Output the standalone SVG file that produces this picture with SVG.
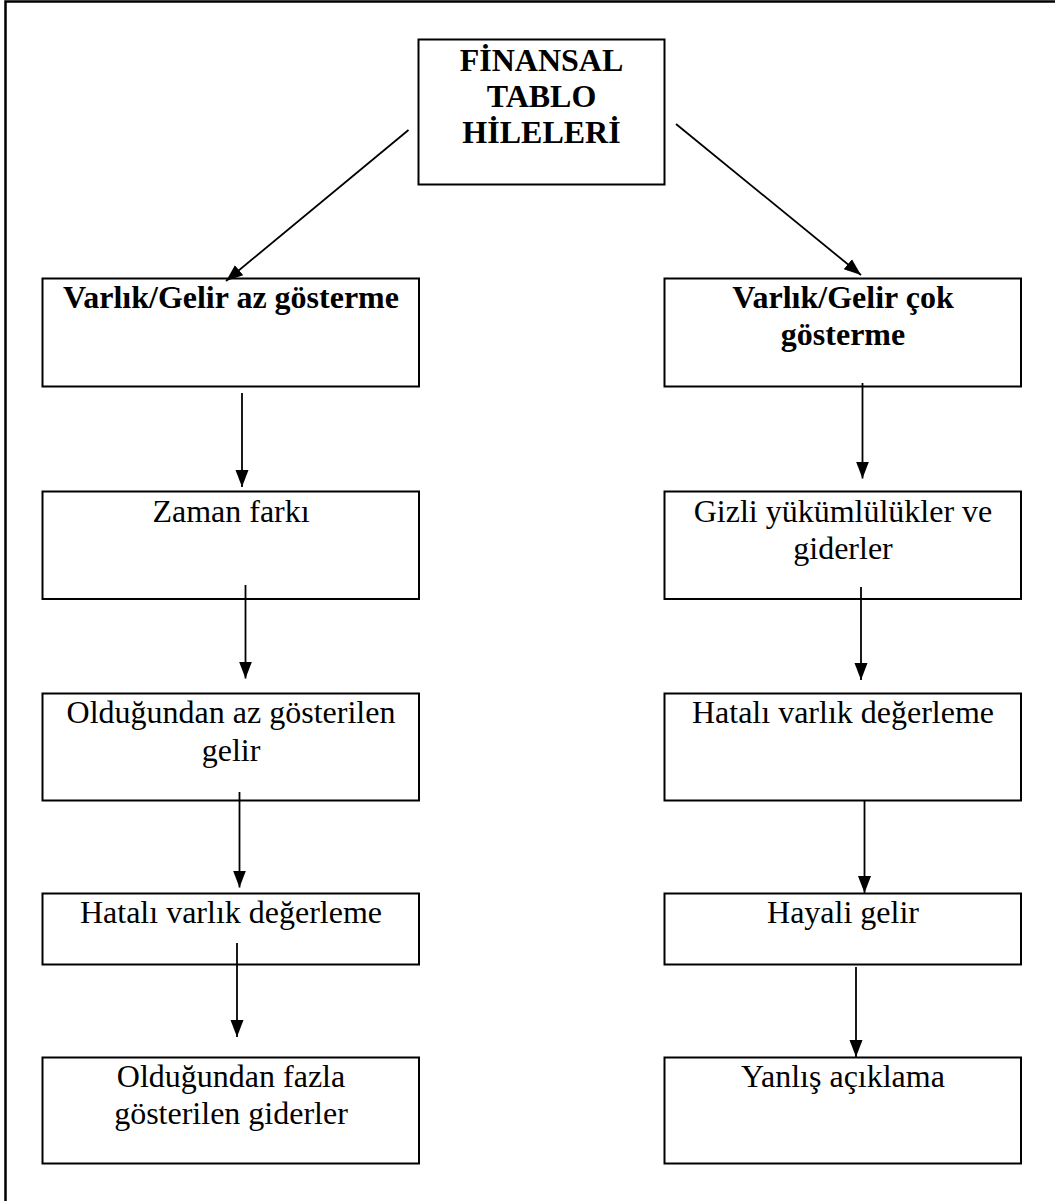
<svg xmlns="http://www.w3.org/2000/svg" width="1055" height="1201" viewBox="0 0 1055 1201">
<style>
.box{fill:#fff;stroke:#000;stroke-width:2}
.t{font-family:"Liberation Serif","Times New Roman",serif;font-size:32px;fill:#000;text-anchor:middle}
.b{font-weight:bold}
.c{stroke:#000;stroke-width:1.8;fill:none;marker-end:url(#ah)}
</style>
<defs>
<marker id="ah" markerUnits="userSpaceOnUse" markerWidth="18" markerHeight="16" viewBox="0 0 18 16" refX="17" refY="8" orient="auto">
<path d="M0,1.5 L17,8 L0,14.5 Z" fill="#000"/>
</marker>
</defs>
<rect width="1055" height="1201" fill="#fff"/>
<path d="M5.5,1201 V1.5 H1055" fill="none" stroke="#000" stroke-width="2.5"/>
<g id="n0"><rect class="box" x="418.5" y="39.5" width="246" height="145"/>
<text class="t b" x="541.5" y="70.5">FİNANSAL</text><text class="t b" x="541.5" y="107">TABLO</text><text class="t b" x="541.5" y="143">HİLELERİ</text></g>
<g id="l1"><rect class="box" x="42.5" y="278.5" width="376.5" height="108"/><text class="t b" x="231" y="308">Varlık/Gelir az gösterme</text></g>
<g id="r1"><rect class="box" x="664.5" y="278.5" width="356.5" height="108"/><text class="t b" x="843" y="308">Varlık/Gelir çok</text><text class="t b" x="843" y="345">gösterme</text></g>
<g id="l2"><rect class="box" x="42.5" y="491.5" width="376.5" height="107.5"/><text class="t" x="231" y="522">Zaman farkı</text></g>
<g id="r2"><rect class="box" x="664.5" y="491.5" width="356.5" height="107.5"/><text class="t" x="843" y="522">Gizli yükümlülükler ve</text><text class="t" x="843" y="558.5">giderler</text></g>
<g id="l3"><rect class="box" x="42.5" y="693.5" width="376.5" height="107"/><text class="t" x="231" y="723">Olduğundan az gösterilen</text><text class="t" x="231" y="760.5">gelir</text></g>
<g id="r3"><rect class="box" x="664.5" y="693.5" width="356.5" height="107"/><text class="t" x="843" y="723">Hatalı varlık değerleme</text></g>
<g id="l4"><rect class="box" x="42.5" y="893.5" width="376.5" height="71"/><text class="t" x="231" y="923">Hatalı varlık değerleme</text></g>
<g id="r4"><rect class="box" x="664.5" y="893.5" width="356.5" height="71"/><text class="t" x="843" y="923">Hayali gelir</text></g>
<g id="l5"><rect class="box" x="42.5" y="1057.5" width="376.5" height="106"/><text class="t" x="231" y="1087">Olduğundan fazla</text><text class="t" x="231" y="1123.5">gösterilen giderler</text></g>
<g id="r5"><rect class="box" x="664.5" y="1057.5" width="356.5" height="106"/><text class="t" x="843" y="1087">Yanlış açıklama</text></g>
<g id="connectors">
<line class="c" x1="408.5" y1="130" x2="226" y2="281"/>
<line class="c" x1="676" y1="124" x2="861" y2="275"/>
<line class="c" x1="242" y1="393" x2="242" y2="487"/>
<line class="c" x1="245.5" y1="585" x2="245.5" y2="678.5"/>
<line class="c" x1="239.5" y1="792" x2="239.5" y2="887.5"/>
<line class="c" x1="237" y1="943" x2="237" y2="1037"/>
<line class="c" x1="862.5" y1="383" x2="862.5" y2="478.5"/>
<line class="c" x1="861" y1="587" x2="861" y2="680"/>
<line class="c" x1="864.5" y1="801" x2="864.5" y2="893"/>
<line class="c" x1="856" y1="967" x2="856" y2="1057"/>
</g>
</svg>
